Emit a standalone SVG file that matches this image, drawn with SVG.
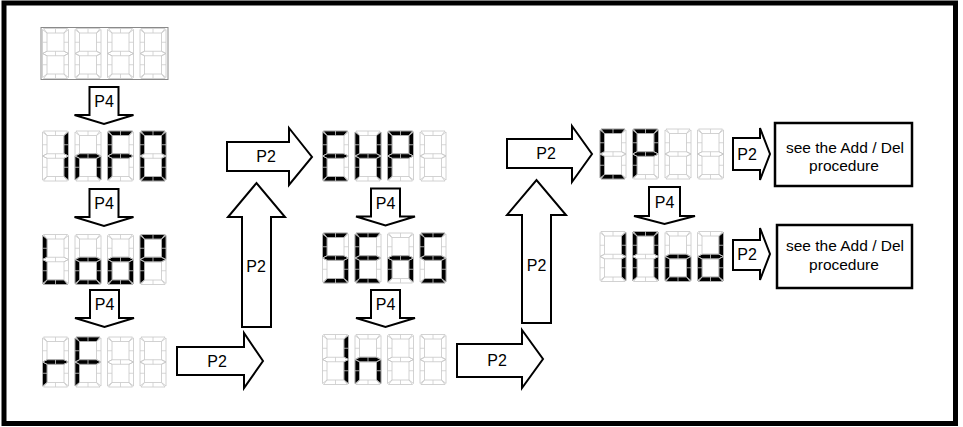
<svg xmlns="http://www.w3.org/2000/svg" xmlns:xlink="http://www.w3.org/1999/xlink" width="963" height="427" viewBox="0 0 963 427">
<style>
.off{fill:none;stroke:#c6c6c6;stroke-width:0.8}
.tk{fill:none;stroke:#cccccc;stroke-width:0.8}
.on{fill:#000;stroke:#000;stroke-width:0.4}
.arr{fill:#fff;stroke:#000;stroke-width:2;stroke-linejoin:miter}
.lbl{font-family:"Liberation Sans",Arial,sans-serif;font-size:16px;fill:#000;text-anchor:middle}
.bt{font-family:"Liberation Sans",Arial,sans-serif;font-size:15.5px;fill:#000;text-anchor:middle}
.box{fill:#fff;stroke:#000;stroke-width:2.5}
</style>
<defs>
<path id="a" d="M1,0 H25 L21.5,4.5 H4.5 Z"/>
<path id="b" d="M26,1 V25 L21.5,22.75 V4.5 Z"/>
<path id="c" d="M26,25 V49 L21.5,45.5 V27.25 Z"/>
<path id="d" d="M1,50 L4.5,45.5 H21.5 L25,50 Z"/>
<path id="e" d="M0,25 L4.5,27.25 V45.5 L0,49 Z"/>
<path id="f" d="M0,1 L4.5,4.5 V22.75 L0,25 Z"/>
<path id="g" d="M0,25 L4.5,22.75 H21.5 L26,25 L21.5,27.25 H4.5 Z"/>
<g id="fr">
<use href="#a" class="off"/><use href="#b" class="off"/><use href="#c" class="off"/><use href="#d" class="off"/><use href="#e" class="off"/><use href="#f" class="off"/><use href="#g" class="off"/>
<path class="tk" d="M13,0V4.5M13,45.5V50M13,22.75V27.25M21.5,13.75H26M21.5,36.25H26M0,13.75H4.5M0,36.25H4.5"/>
</g>
</defs>
<rect x="4" y="3" width="951.5" height="420.5" fill="#fff" stroke="#000" stroke-width="5"/>

<g id="display-blank">
<rect x="41" y="27.5" width="127" height="52" fill="none" stroke="#8a8a8a" stroke-width="1"/>
<g transform="translate(42.5,28.5)"><use href="#fr"/></g>
<g transform="translate(75,28.5)"><use href="#fr"/></g>
<g transform="translate(107.5,28.5)"><use href="#fr"/></g>
<g transform="translate(140,28.5)"><use href="#fr"/></g>
</g>

<g id="display-InFO">
<g transform="translate(42.5,131)"><use href="#b" class="on"/><use href="#c" class="on"/><use href="#fr"/></g>
<g transform="translate(75,131)"><use href="#c" class="on"/><use href="#e" class="on"/><use href="#g" class="on"/><use href="#fr"/></g>
<g transform="translate(107.5,131)"><use href="#a" class="on"/><use href="#e" class="on"/><use href="#f" class="on"/><use href="#g" class="on"/><use href="#fr"/></g>
<g transform="translate(140,131)"><use href="#a" class="on"/><use href="#b" class="on"/><use href="#c" class="on"/><use href="#d" class="on"/><use href="#e" class="on"/><use href="#f" class="on"/><use href="#fr"/></g>
</g>

<g id="display-LooP">
<g transform="translate(42.5,234.5)"><use href="#d" class="on"/><use href="#e" class="on"/><use href="#f" class="on"/><use href="#fr"/></g>
<g transform="translate(75,234.5)"><use href="#c" class="on"/><use href="#d" class="on"/><use href="#e" class="on"/><use href="#g" class="on"/><use href="#fr"/></g>
<g transform="translate(107.5,234.5)"><use href="#c" class="on"/><use href="#d" class="on"/><use href="#e" class="on"/><use href="#g" class="on"/><use href="#fr"/></g>
<g transform="translate(140,234.5)"><use href="#a" class="on"/><use href="#b" class="on"/><use href="#e" class="on"/><use href="#f" class="on"/><use href="#g" class="on"/><use href="#fr"/></g>
</g>

<g id="display-rF">
<g transform="translate(42.5,337)"><use href="#e" class="on"/><use href="#g" class="on"/><use href="#fr"/></g>
<g transform="translate(75,337)"><use href="#a" class="on"/><use href="#e" class="on"/><use href="#f" class="on"/><use href="#g" class="on"/><use href="#fr"/></g>
<g transform="translate(107.5,337)"><use href="#fr"/></g>
<g transform="translate(140,337)"><use href="#fr"/></g>
</g>

<g id="display-EHP">
<g transform="translate(322.5,131)"><use href="#a" class="on"/><use href="#d" class="on"/><use href="#e" class="on"/><use href="#f" class="on"/><use href="#g" class="on"/><use href="#fr"/></g>
<g transform="translate(355,131)"><use href="#b" class="on"/><use href="#c" class="on"/><use href="#e" class="on"/><use href="#f" class="on"/><use href="#g" class="on"/><use href="#fr"/></g>
<g transform="translate(387.5,131)"><use href="#a" class="on"/><use href="#b" class="on"/><use href="#e" class="on"/><use href="#f" class="on"/><use href="#g" class="on"/><use href="#fr"/></g>
<g transform="translate(420,131)"><use href="#fr"/></g>
</g>

<g id="display-SEnS">
<g transform="translate(322.5,233)"><use href="#a" class="on"/><use href="#c" class="on"/><use href="#d" class="on"/><use href="#f" class="on"/><use href="#g" class="on"/><use href="#fr"/></g>
<g transform="translate(355,233)"><use href="#a" class="on"/><use href="#d" class="on"/><use href="#e" class="on"/><use href="#f" class="on"/><use href="#g" class="on"/><use href="#fr"/></g>
<g transform="translate(387.5,233)"><use href="#c" class="on"/><use href="#e" class="on"/><use href="#g" class="on"/><use href="#fr"/></g>
<g transform="translate(420,233)"><use href="#a" class="on"/><use href="#c" class="on"/><use href="#d" class="on"/><use href="#f" class="on"/><use href="#g" class="on"/><use href="#fr"/></g>
</g>

<g id="display-In">
<g transform="translate(322.5,334.5)"><use href="#b" class="on"/><use href="#c" class="on"/><use href="#fr"/></g>
<g transform="translate(355,334.5)"><use href="#c" class="on"/><use href="#e" class="on"/><use href="#g" class="on"/><use href="#fr"/></g>
<g transform="translate(387.5,334.5)"><use href="#fr"/></g>
<g transform="translate(420,334.5)"><use href="#fr"/></g>
</g>

<g id="display-CP">
<g transform="translate(600,129)"><use href="#a" class="on"/><use href="#d" class="on"/><use href="#e" class="on"/><use href="#f" class="on"/><use href="#fr"/></g>
<g transform="translate(632.5,129)"><use href="#a" class="on"/><use href="#b" class="on"/><use href="#e" class="on"/><use href="#f" class="on"/><use href="#g" class="on"/><use href="#fr"/></g>
<g transform="translate(665,129)"><use href="#fr"/></g>
<g transform="translate(697.5,129)"><use href="#fr"/></g>
</g>

<g id="display-1Nod">
<g transform="translate(600,231.5)"><use href="#b" class="on"/><use href="#c" class="on"/><use href="#fr"/></g>
<g transform="translate(632.5,231.5)"><use href="#a" class="on"/><use href="#b" class="on"/><use href="#c" class="on"/><use href="#e" class="on"/><use href="#f" class="on"/><use href="#fr"/></g>
<g transform="translate(665,231.5)"><use href="#c" class="on"/><use href="#d" class="on"/><use href="#e" class="on"/><use href="#g" class="on"/><use href="#fr"/></g>
<g transform="translate(697.5,231.5)"><use href="#b" class="on"/><use href="#c" class="on"/><use href="#d" class="on"/><use href="#e" class="on"/><use href="#g" class="on"/><use href="#fr"/></g>
</g>

<g id="box-1">
<rect class="box" x="775" y="123" width="137" height="63"/>
<text class="bt" x="845" y="153">see the Add / Del</text>
<text class="bt" x="844" y="171">procedure</text>
</g>
<g id="box-2">
<rect class="box" x="777" y="225" width="135" height="63"/>
<text class="bt" x="845" y="251">see the Add / Del</text>
<text class="bt" x="844" y="270">procedure</text>
</g>

<g id="connectors">
<polygon class="arr" points="89.5,87 118.5,87 118.5,115 133.5,115 104,124 74.5,115 89.5,115"/>
<text class="lbl" x="104" y="107">P4</text>
<polygon class="arr" points="89.5,189 118.5,189 118.5,217 133.5,217 104,226 74.5,217 89.5,217"/>
<text class="lbl" x="104" y="209">P4</text>
<polygon class="arr" points="90,290 119,290 119,318 134,318 104.5,327 75,318 90,318"/>
<text class="lbl" x="104.5" y="310">P4</text>

<polygon class="arr" points="371,188.5 400,188.5 400,216.5 415,216.5 385.5,225.5 356,216.5 371,216.5"/>
<text class="lbl" x="385.5" y="208.5">P4</text>
<polygon class="arr" points="371,290 400,290 400,318 415,318 385.5,327 356,318 371,318"/>
<text class="lbl" x="385.5" y="310">P4</text>

<polygon class="arr" points="649,187 680,187 680,216 695,216 664.5,224 634,216 649,216"/>
<text class="lbl" x="664.5" y="208">P4</text>

<polygon class="arr" points="177,347 244,347 244,333 263,361 244,388 244,375 177,375"/>
<text class="lbl" x="217" y="367">P2</text>
<polygon class="arr" points="242,327 242,217 228,217 256.5,183 285,217 271,217 271,327"/>
<text class="lbl" x="256" y="272">P2</text>
<polygon class="arr" points="227,142 289,142 289,128 312,157 289,185 289,171 227,171"/>
<text class="lbl" x="266" y="162">P2</text>

<polygon class="arr" points="457,344 522,344 522,330 543,359 522,388 522,377 457,377"/>
<text class="lbl" x="497" y="366">P2</text>
<polygon class="arr" points="522,323 522,215 507,215 536.5,180 566,215 551,215 551,323"/>
<text class="lbl" x="536.5" y="271">P2</text>
<polygon class="arr" points="507,139 572,139 572,126 592,154 572,182 572,168 507,168"/>
<text class="lbl" x="546" y="159">P2</text>

<polygon class="arr" points="733,138 760,138 760,128 770,154 760,180 760,170 733,170"/>
<text class="lbl" x="747" y="160">P2</text>
<polygon class="arr" points="733,240 760,240 760,228 770,254 760,280 760,270 733,270"/>
<text class="lbl" x="747" y="260">P2</text>
</g>
</svg>
